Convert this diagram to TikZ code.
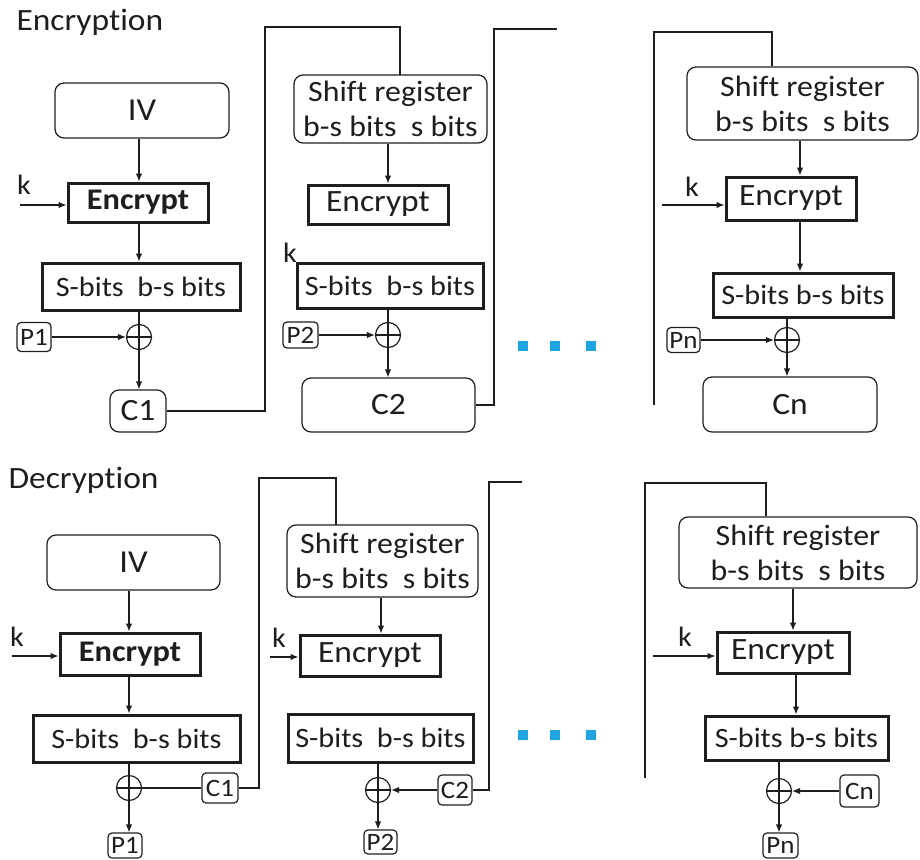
\documentclass[tikz,border=0pt]{standalone}
\usepackage{fontspec}
\setmainfont{Carlito}[FakeStretch=1.08,RawFeature={-liga;-clig;-dlig;-calt}]
\usetikzlibrary{arrows.meta}
\definecolor{ink}{RGB}{30,30,30}
\definecolor{dotblue}{RGB}{30,165,225}
\begin{document}
\begin{tikzpicture}[x=1pt,y=-1pt,
  every node/.style={text=ink},
  line/.style={draw=ink,line width=1.2pt},
  arr/.style={line,-{Latex[length=8pt,width=6.5pt]}},
  rbox/.style={draw=ink,line width=1.2pt,rounded corners=9pt,inner sep=0pt},
  tbox/.style={draw=ink,line width=3pt,inner sep=0pt},
  tag/.style={draw=ink,line width=1.2pt,rounded corners=4pt,inner sep=0pt,font=\fontsize{25}{27}\selectfont},
  xor/.style={circle,draw=ink,line width=1.2pt,minimum size=25pt,inner sep=0pt,
    path picture={\draw[ink,line width=1.2pt]
      (path picture bounding box.north) -- (path picture bounding box.south)
      (path picture bounding box.west) -- (path picture bounding box.east);}},
  title/.style={anchor=west,font=\fontsize{31}{34}\selectfont},
  ivtxt/.style={font=\fontsize{32}{36}\selectfont},
  enctxt/.style={font=\fontsize{31}{34}\selectfont},
  boldtxt/.style={font=\fontsize{30}{34}\selectfont\bfseries},
  bittxt/.style={font=\fontsize{28}{31}\selectfont},
  shifttxt/.style={align=center,font=\fontsize{29.5}{35}\selectfont},
  ctxt/.style={font=\fontsize{31}{34}\selectfont},
  klbl/.style={inner sep=0pt,font=\fontsize{28}{30}\selectfont},
  dot/.style={fill=dotblue,minimum size=10pt,inner sep=0pt}
]
\useasboundingbox (0,0) rectangle (920,859);

% ---------------- Encryption ----------------
\node[title] (enctitle) at (13,22) {Encryption};

% first block
\node[rbox,ivtxt,minimum width=174pt,minimum height=55pt] (iv1) at (142,110.5) {IV};
\node[tbox,boldtxt,minimum width=140pt,minimum height=39pt] (e1) at (138,202.5) {Encrypt};
\node[tbox,bittxt,minimum width=198pt,minimum height=47pt] (s1) at (141,286.5) {S-bits\ \ b-s bits};
\node[xor] (x1) at (139,337) {};
\node[tag,minimum width=34pt,minimum height=29pt] (p1) at (34,337) {P1};
\node[rbox,ctxt,minimum width=56pt,minimum height=42pt] (c1) at (138,411) {C1};
\node[klbl] (k1) at (24,185) {k};
\coordinate (k1in) at (20,205);
\draw[arr] (k1in) -- (k1in -| e1.west);
\draw[arr] (iv1.south -| x1) -- (e1.north -| x1);
\draw[arr] (e1.south -| x1) -- (s1.north -| x1);
\draw[line] (s1.south -| x1) -- (x1.north);
\draw[arr] (p1.east) -- (x1.west);
\draw[arr] (x1.south) -- (c1.north -| x1);

% second block
\node[rbox,shifttxt,minimum width=193pt,minimum height=68pt] (sr2) at (390.5,109) {Shift register\\b-s bits\ \ s bits};
\node[tbox,enctxt,minimum width=140pt,minimum height=39pt] (e2) at (378,204.5) {Encrypt};
\node[klbl] (k2) at (290,253) {k};
\node[tbox,bittxt,minimum width=186pt,minimum height=45pt] (s2) at (390,285.5) {S-bits\ \ b-s bits};
\node[xor] (x2) at (388,335) {};
\node[tag,minimum width=35pt,minimum height=26pt] (p2) at (300.5,335) {P2};
\node[rbox,ctxt,minimum width=173pt,minimum height=54pt] (c2) at (388.5,405) {C2};
\draw[arr] (sr2.south -| x2) -- (e2.north -| x2);
\draw[line] (s2.south -| x2) -- (x2.north);
\draw[arr] (p2.east) -- (x2.west);
\draw[arr] (x2.south) -- (c2.north -| x2);

% feedback C1 -> shift register
\coordinate (fb1) at (265,27);
\coordinate (sr2in) at (400,75);
\draw[line] (c1.east) -| (fb1) -| (sr2in);

% feedback C2 -> next stage
\coordinate (fb2) at (494,29);
\coordinate (fb2end) at (557,29);
\draw[line] (c2.east) -| (fb2) -- (fb2end);

% ellipsis
\node[dot] (d1) at (523,346) {};
\node[dot] (d2) at (555,346) {};
\node[dot] (d3) at (591,346) {};

% last block
\node[rbox,shifttxt,minimum width=231pt,minimum height=73pt] (srn) at (802.5,103.5) {Shift register\\b-s bits\ \ s bits};
\node[tbox,enctxt,minimum width=130pt,minimum height=43pt] (en) at (791,198.5) {Encrypt};
\node[tbox,bittxt,minimum width=180pt,minimum height=44pt] (sn) at (803,295) {S-bits b-s bits};
\node[xor] (xn) at (787,340) {};
\node[tag,minimum width=33pt,minimum height=25pt] (pn) at (683.5,340) {Pn};
\node[rbox,ctxt,minimum width=174pt,minimum height=55pt] (cn) at (790,404.5) {Cn};
\node[klbl] (kn) at (692,187) {k};
\coordinate (axn) at (800,0);
\coordinate (knin) at (662,205);
\draw[arr] (knin) -- (knin -| en.west);
\draw[arr] (srn.south -| axn) -- (en.north -| axn);
\draw[arr] (en.south -| axn) -- (sn.north -| axn);
\draw[line] (sn.south -| xn) -- (xn.north);
\draw[arr] (pn.east) -- (xn.west);
\draw[arr] (xn.south) -- (cn.north -| xn);
\coordinate (fnin) at (654,405);
\coordinate (fbn) at (772,32);
\draw[line] (fnin) |- (fbn) -- (fbn |- srn.north);

% ---------------- Decryption ----------------
\node[title] (dectitle) at (5,480) {Decryption};

% first block
\node[rbox,ivtxt,minimum width=173pt,minimum height=55pt] (div1) at (133.5,562.5) {IV};
\node[tbox,boldtxt,minimum width=140pt,minimum height=42pt] (de1) at (130,654) {Encrypt};
\node[tbox,bittxt,minimum width=207pt,minimum height=47pt] (ds1) at (136.5,738.5) {S-bits\ \ b-s bits};
\node[xor] (dx1) at (129,788) {};
\node[tag,minimum width=36pt,minimum height=30pt] (dc1) at (220,788) {C1};
\node[tag,minimum width=34pt,minimum height=25pt] (dp1) at (125,845.5) {P1};
\node[klbl] (dk1) at (17,637) {k};
\coordinate (dk1in) at (12,656);
\draw[arr] (dk1in) -- (dk1in -| de1.west);
\draw[arr] (div1.south -| dx1) -- (de1.north -| dx1);
\draw[arr] (de1.south -| dx1) -- (ds1.north -| dx1);
\draw[line] (ds1.south -| dx1) -- (dx1.north);
\draw[line] (dc1.west) -- (dx1.east);
\draw[arr] (dx1.south) -- (dp1.north -| dx1);

% second block
\node[rbox,shifttxt,minimum width=191pt,minimum height=72pt] (dsr2) at (382.5,561) {Shift register\\b-s bits\ \ s bits};
\node[tbox,enctxt,minimum width=140pt,minimum height=41pt] (de2) at (370,655.5) {Encrypt};
\node[tbox,bittxt,minimum width=185pt,minimum height=48pt] (ds2) at (380.5,738) {S-bits\ \ b-s bits};
\node[xor] (dx2) at (378,790) {};
\node[tag,minimum width=34pt,minimum height=30pt] (dc2) at (455,790) {C2};
\node[tag,minimum width=33pt,minimum height=24pt] (dp2) at (380.5,842) {P2};
\node[klbl] (dk2) at (279,638) {k};
\coordinate (dax2) at (381,0);
\coordinate (dk2in) at (270,657);
\draw[arr] (dk2in) -- (dk2in -| de2.west);
\draw[arr] (dsr2.south -| dax2) -- (de2.north -| dax2);
\draw[line] (ds2.south -| dx2) -- (dx2.north);
\draw[arr] (dc2.west) -- (dx2.east);
\draw[arr] (dx2.south) -- (dp2.north -| dx2);

% feedback C1 -> shift register
\coordinate (dfb1) at (259,478);
\coordinate (dsr2in) at (336,525);
\draw[line] (dc1.east) -| (dfb1) -| (dsr2in);

% feedback C2 -> next stage
\coordinate (dfb2) at (489,482);
\coordinate (dfb2end) at (522,482);
\draw[line] (dc2.east) -| (dfb2) -- (dfb2end);

% ellipsis
\node[dot] (dd1) at (523,735) {};
\node[dot] (dd2) at (555,735) {};
\node[dot] (dd3) at (591,735) {};

% last block
\node[rbox,shifttxt,minimum width=238pt,minimum height=71pt] (dsrn) at (798,552.5) {Shift register\\b-s bits\ \ s bits};
\node[tbox,enctxt,minimum width=132pt,minimum height=41pt] (den) at (783,652.5) {Encrypt};
\node[tbox,bittxt,minimum width=183pt,minimum height=44pt] (dsn) at (796.5,738) {S-bits b-s bits};
\node[xor] (dxn) at (779,791) {};
\node[tag,minimum width=39pt,minimum height=32pt] (dcn) at (859.5,791) {Cn};
\node[tag,minimum width=35pt,minimum height=25pt] (dpn) at (780.5,845.5) {Pn};
\node[klbl] (dkn) at (685,637) {k};
\coordinate (dax3) at (793,0);
\coordinate (dax4) at (796,0);
\coordinate (dknin) at (653,656);
\draw[arr] (dknin) -- (dknin -| den.west);
\draw[arr] (dsrn.south -| dax3) -- (den.north -| dax3);
\draw[arr] (den.south -| dax4) -- (dsn.north -| dax4);
\draw[line] (dsn.south -| dxn) -- (dxn.north);
\draw[arr] (dcn.west) -- (dxn.east);
\draw[arr] (dxn.south) -- (dpn.north -| dxn);
\coordinate (dfnin) at (645,778);
\coordinate (dfbn) at (766,483);
\draw[line] (dfnin) |- (dfbn) -- (dfbn |- dsrn.north);
\end{tikzpicture}
\end{document}
